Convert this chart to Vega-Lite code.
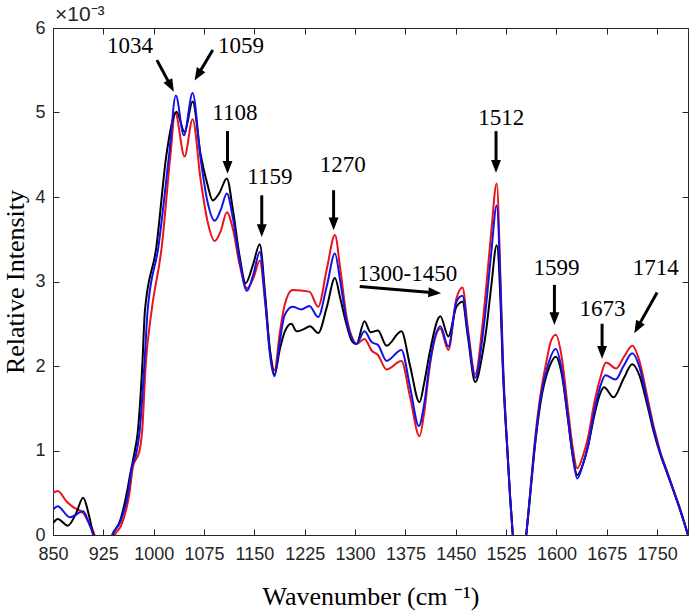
{
  "$schema": "https://vega.github.io/schema/vega-lite/v6.json",
  "width": 635,
  "height": 507,
  "autosize": {"type": "none"},
  "padding": {"left": 53, "top": 28, "right": 4, "bottom": 79},
  "background": "white",
  "datasets": {
    "spectra": [
      {"series": "S1", "wn": 850, "ri": 0.50}, {"series": "S1", "wn": 857, "ri": 0.52}, {"series": "S1", "wn": 870, "ri": 0.40},
      {"series": "S1", "wn": 880, "ri": 0.33}, {"series": "S1", "wn": 895, "ri": 0.26}, {"series": "S1", "wn": 903, "ri": 0.15},
      {"series": "S1", "wn": 912, "ri": 0.0}, {"series": "S1", "wn": 924, "ri": -0.5}, {"series": "S1", "wn": 942, "ri": 0.0},
      {"series": "S1", "wn": 952, "ri": 0.12}, {"series": "S1", "wn": 964, "ri": 0.5}, {"series": "S1", "wn": 969, "ri": 0.8},
      {"series": "S1", "wn": 979, "ri": 1.0}, {"series": "S1", "wn": 983, "ri": 1.25}, {"series": "S1", "wn": 988, "ri": 2.0},
      {"series": "S1", "wn": 997, "ri": 2.66}, {"series": "S1", "wn": 1012, "ri": 3.41}, {"series": "S1", "wn": 1025, "ri": 4.5},
      {"series": "S1", "wn": 1032, "ri": 5.0}, {"series": "S1", "wn": 1046, "ri": 4.48}, {"series": "S1", "wn": 1058, "ri": 4.92},
      {"series": "S1", "wn": 1070, "ri": 4.2}, {"series": "S1", "wn": 1080, "ri": 3.72}, {"series": "S1", "wn": 1091, "ri": 3.48},
      {"series": "S1", "wn": 1100, "ri": 3.6}, {"series": "S1", "wn": 1109, "ri": 3.82}, {"series": "S1", "wn": 1118, "ri": 3.62},
      {"series": "S1", "wn": 1128, "ri": 3.2}, {"series": "S1", "wn": 1139, "ri": 2.92}, {"series": "S1", "wn": 1149, "ri": 3.05},
      {"series": "S1", "wn": 1158, "ri": 3.25}, {"series": "S1", "wn": 1166, "ri": 2.75}, {"series": "S1", "wn": 1173, "ri": 2.2},
      {"series": "S1", "wn": 1180, "ri": 1.95}, {"series": "S1", "wn": 1188, "ri": 2.4}, {"series": "S1", "wn": 1195, "ri": 2.72},
      {"series": "S1", "wn": 1207, "ri": 2.90}, {"series": "S1", "wn": 1232, "ri": 2.88}, {"series": "S1", "wn": 1245, "ri": 2.70},
      {"series": "S1", "wn": 1258, "ri": 3.15}, {"series": "S1", "wn": 1270, "ri": 3.55}, {"series": "S1", "wn": 1278, "ri": 3.15},
      {"series": "S1", "wn": 1287, "ri": 2.6}, {"series": "S1", "wn": 1295, "ri": 2.35}, {"series": "S1", "wn": 1302, "ri": 2.26},
      {"series": "S1", "wn": 1314, "ri": 2.32}, {"series": "S1", "wn": 1325, "ri": 2.18}, {"series": "S1", "wn": 1334, "ri": 2.13},
      {"series": "S1", "wn": 1347, "ri": 1.96}, {"series": "S1", "wn": 1369, "ri": 2.06}, {"series": "S1", "wn": 1382, "ri": 1.63},
      {"series": "S1", "wn": 1396, "ri": 1.17}, {"series": "S1", "wn": 1403, "ri": 1.45}, {"series": "S1", "wn": 1411, "ri": 1.98},
      {"series": "S1", "wn": 1427, "ri": 2.44}, {"series": "S1", "wn": 1439, "ri": 2.19}, {"series": "S1", "wn": 1451, "ri": 2.80},
      {"series": "S1", "wn": 1460, "ri": 2.93}, {"series": "S1", "wn": 1468, "ri": 2.45}, {"series": "S1", "wn": 1479, "ri": 1.90},
      {"series": "S1", "wn": 1490, "ri": 2.5}, {"series": "S1", "wn": 1495, "ri": 2.9}, {"series": "S1", "wn": 1503, "ri": 3.6},
      {"series": "S1", "wn": 1511, "ri": 4.16}, {"series": "S1", "wn": 1517, "ri": 2.94}, {"series": "S1", "wn": 1520, "ri": 2.15},
      {"series": "S1", "wn": 1527, "ri": 1.0}, {"series": "S1", "wn": 1531, "ri": 0.45}, {"series": "S1", "wn": 1535, "ri": 0.0},
      {"series": "S1", "wn": 1545, "ri": -0.6}, {"series": "S1", "wn": 1555, "ri": 0.0}, {"series": "S1", "wn": 1561, "ri": 0.52},
      {"series": "S1", "wn": 1567, "ri": 1.05}, {"series": "S1", "wn": 1576, "ri": 1.65}, {"series": "S1", "wn": 1585, "ri": 2.05},
      {"series": "S1", "wn": 1592, "ri": 2.3}, {"series": "S1", "wn": 1599, "ri": 2.37}, {"series": "S1", "wn": 1608, "ri": 2.1},
      {"series": "S1", "wn": 1617, "ri": 1.5}, {"series": "S1", "wn": 1624, "ri": 1.05}, {"series": "S1", "wn": 1631, "ri": 0.79},
      {"series": "S1", "wn": 1640, "ri": 0.95}, {"series": "S1", "wn": 1647, "ri": 1.15}, {"series": "S1", "wn": 1656, "ri": 1.55},
      {"series": "S1", "wn": 1665, "ri": 1.85}, {"series": "S1", "wn": 1674, "ri": 2.04}, {"series": "S1", "wn": 1689, "ri": 1.97},
      {"series": "S1", "wn": 1700, "ri": 2.1}, {"series": "S1", "wn": 1713, "ri": 2.24}, {"series": "S1", "wn": 1724, "ri": 2.05},
      {"series": "S1", "wn": 1735, "ri": 1.65}, {"series": "S1", "wn": 1745, "ri": 1.28}, {"series": "S1", "wn": 1755, "ri": 0.98},
      {"series": "S1", "wn": 1765, "ri": 0.75}, {"series": "S1", "wn": 1775, "ri": 0.52}, {"series": "S1", "wn": 1785, "ri": 0.29},
      {"series": "S1", "wn": 1796, "ri": 0.0},

      {"series": "S2", "wn": 850, "ri": 0.14}, {"series": "S2", "wn": 857, "ri": 0.19}, {"series": "S2", "wn": 872, "ri": 0.11},
      {"series": "S2", "wn": 884, "ri": 0.25}, {"series": "S2", "wn": 895, "ri": 0.44}, {"series": "S2", "wn": 903, "ri": 0.25},
      {"series": "S2", "wn": 910, "ri": 0.0}, {"series": "S2", "wn": 924, "ri": -0.5}, {"series": "S2", "wn": 939, "ri": 0.0},
      {"series": "S2", "wn": 950, "ri": 0.17}, {"series": "S2", "wn": 960, "ri": 0.5}, {"series": "S2", "wn": 965, "ri": 0.72},
      {"series": "S2", "wn": 972, "ri": 1.0}, {"series": "S2", "wn": 976, "ri": 1.2}, {"series": "S2", "wn": 983, "ri": 2.0},
      {"series": "S2", "wn": 987, "ri": 2.66}, {"series": "S2", "wn": 1004, "ri": 3.41}, {"series": "S2", "wn": 1019, "ri": 4.5},
      {"series": "S2", "wn": 1028, "ri": 4.9}, {"series": "S2", "wn": 1034, "ri": 5.01}, {"series": "S2", "wn": 1046, "ri": 4.77},
      {"series": "S2", "wn": 1058, "ri": 5.13}, {"series": "S2", "wn": 1070, "ri": 4.5}, {"series": "S2", "wn": 1080, "ri": 4.15},
      {"series": "S2", "wn": 1088, "ri": 3.96}, {"series": "S2", "wn": 1098, "ri": 4.05}, {"series": "S2", "wn": 1109, "ri": 4.22},
      {"series": "S2", "wn": 1118, "ri": 3.85}, {"series": "S2", "wn": 1128, "ri": 3.3}, {"series": "S2", "wn": 1137, "ri": 2.98},
      {"series": "S2", "wn": 1148, "ri": 3.2}, {"series": "S2", "wn": 1158, "ri": 3.44}, {"series": "S2", "wn": 1166, "ri": 2.85},
      {"series": "S2", "wn": 1173, "ri": 2.2}, {"series": "S2", "wn": 1180, "ri": 1.9}, {"series": "S2", "wn": 1188, "ri": 2.2},
      {"series": "S2", "wn": 1195, "ri": 2.4}, {"series": "S2", "wn": 1205, "ri": 2.50}, {"series": "S2", "wn": 1213, "ri": 2.41},
      {"series": "S2", "wn": 1222, "ri": 2.43}, {"series": "S2", "wn": 1233, "ri": 2.47}, {"series": "S2", "wn": 1245, "ri": 2.39},
      {"series": "S2", "wn": 1258, "ri": 2.7}, {"series": "S2", "wn": 1270, "ri": 3.04}, {"series": "S2", "wn": 1278, "ri": 2.8},
      {"series": "S2", "wn": 1287, "ri": 2.5}, {"series": "S2", "wn": 1295, "ri": 2.3}, {"series": "S2", "wn": 1302, "ri": 2.26},
      {"series": "S2", "wn": 1314, "ri": 2.53}, {"series": "S2", "wn": 1323, "ri": 2.40}, {"series": "S2", "wn": 1334, "ri": 2.42},
      {"series": "S2", "wn": 1347, "ri": 2.24}, {"series": "S2", "wn": 1369, "ri": 2.41}, {"series": "S2", "wn": 1382, "ri": 2.0},
      {"series": "S2", "wn": 1396, "ri": 1.57}, {"series": "S2", "wn": 1403, "ri": 1.8}, {"series": "S2", "wn": 1411, "ri": 2.15},
      {"series": "S2", "wn": 1427, "ri": 2.59}, {"series": "S2", "wn": 1439, "ri": 2.35}, {"series": "S2", "wn": 1451, "ri": 2.70},
      {"series": "S2", "wn": 1460, "ri": 2.76}, {"series": "S2", "wn": 1468, "ri": 2.35}, {"series": "S2", "wn": 1479, "ri": 1.81},
      {"series": "S2", "wn": 1490, "ri": 2.15}, {"series": "S2", "wn": 1495, "ri": 2.4}, {"series": "S2", "wn": 1503, "ri": 2.95},
      {"series": "S2", "wn": 1511, "ri": 3.43}, {"series": "S2", "wn": 1517, "ri": 2.7}, {"series": "S2", "wn": 1520, "ri": 2.0},
      {"series": "S2", "wn": 1527, "ri": 0.98}, {"series": "S2", "wn": 1531, "ri": 0.45}, {"series": "S2", "wn": 1535, "ri": 0.0},
      {"series": "S2", "wn": 1545, "ri": -0.6}, {"series": "S2", "wn": 1555, "ri": 0.0}, {"series": "S2", "wn": 1561, "ri": 0.48},
      {"series": "S2", "wn": 1567, "ri": 0.98}, {"series": "S2", "wn": 1576, "ri": 1.55}, {"series": "S2", "wn": 1590, "ri": 2.0},
      {"series": "S2", "wn": 1599, "ri": 2.11}, {"series": "S2", "wn": 1608, "ri": 1.9}, {"series": "S2", "wn": 1617, "ri": 1.38},
      {"series": "S2", "wn": 1624, "ri": 0.95}, {"series": "S2", "wn": 1631, "ri": 0.71}, {"series": "S2", "wn": 1640, "ri": 0.85},
      {"series": "S2", "wn": 1647, "ri": 1.05}, {"series": "S2", "wn": 1656, "ri": 1.4}, {"series": "S2", "wn": 1664, "ri": 1.65},
      {"series": "S2", "wn": 1671, "ri": 1.75}, {"series": "S2", "wn": 1685, "ri": 1.63}, {"series": "S2", "wn": 1700, "ri": 1.85},
      {"series": "S2", "wn": 1713, "ri": 2.02}, {"series": "S2", "wn": 1724, "ri": 1.88}, {"series": "S2", "wn": 1735, "ri": 1.55},
      {"series": "S2", "wn": 1745, "ri": 1.22}, {"series": "S2", "wn": 1755, "ri": 0.95}, {"series": "S2", "wn": 1765, "ri": 0.73},
      {"series": "S2", "wn": 1775, "ri": 0.51}, {"series": "S2", "wn": 1785, "ri": 0.28}, {"series": "S2", "wn": 1796, "ri": 0.0},

      {"series": "S3", "wn": 850, "ri": 0.30}, {"series": "S3", "wn": 857, "ri": 0.34}, {"series": "S3", "wn": 875, "ri": 0.21},
      {"series": "S3", "wn": 895, "ri": 0.28}, {"series": "S3", "wn": 903, "ri": 0.15}, {"series": "S3", "wn": 910, "ri": 0.0},
      {"series": "S3", "wn": 924, "ri": -0.5}, {"series": "S3", "wn": 938, "ri": 0.0}, {"series": "S3", "wn": 950, "ri": 0.15},
      {"series": "S3", "wn": 962, "ri": 0.5}, {"series": "S3", "wn": 967, "ri": 0.78}, {"series": "S3", "wn": 975, "ri": 1.0},
      {"series": "S3", "wn": 979, "ri": 1.22}, {"series": "S3", "wn": 986, "ri": 2.0}, {"series": "S3", "wn": 991, "ri": 2.66},
      {"series": "S3", "wn": 1007, "ri": 3.41}, {"series": "S3", "wn": 1023, "ri": 4.5}, {"series": "S3", "wn": 1033, "ri": 5.20},
      {"series": "S3", "wn": 1045, "ri": 4.73}, {"series": "S3", "wn": 1058, "ri": 5.23}, {"series": "S3", "wn": 1070, "ri": 4.45},
      {"series": "S3", "wn": 1080, "ri": 3.95}, {"series": "S3", "wn": 1091, "ri": 3.72}, {"series": "S3", "wn": 1100, "ri": 3.85},
      {"series": "S3", "wn": 1109, "ri": 4.04}, {"series": "S3", "wn": 1118, "ri": 3.75}, {"series": "S3", "wn": 1128, "ri": 3.25},
      {"series": "S3", "wn": 1139, "ri": 2.89}, {"series": "S3", "wn": 1149, "ri": 3.1}, {"series": "S3", "wn": 1158, "ri": 3.35},
      {"series": "S3", "wn": 1166, "ri": 2.8}, {"series": "S3", "wn": 1173, "ri": 2.15}, {"series": "S3", "wn": 1180, "ri": 1.88},
      {"series": "S3", "wn": 1188, "ri": 2.3}, {"series": "S3", "wn": 1195, "ri": 2.6}, {"series": "S3", "wn": 1207, "ri": 2.70},
      {"series": "S3", "wn": 1220, "ri": 2.67}, {"series": "S3", "wn": 1232, "ri": 2.71}, {"series": "S3", "wn": 1245, "ri": 2.58},
      {"series": "S3", "wn": 1258, "ri": 2.95}, {"series": "S3", "wn": 1270, "ri": 3.33}, {"series": "S3", "wn": 1278, "ri": 3.0},
      {"series": "S3", "wn": 1287, "ri": 2.55}, {"series": "S3", "wn": 1295, "ri": 2.33}, {"series": "S3", "wn": 1302, "ri": 2.26},
      {"series": "S3", "wn": 1314, "ri": 2.41}, {"series": "S3", "wn": 1325, "ri": 2.28}, {"series": "S3", "wn": 1334, "ri": 2.25},
      {"series": "S3", "wn": 1347, "ri": 2.06}, {"series": "S3", "wn": 1369, "ri": 2.19}, {"series": "S3", "wn": 1382, "ri": 1.75},
      {"series": "S3", "wn": 1395, "ri": 1.29}, {"series": "S3", "wn": 1403, "ri": 1.55}, {"series": "S3", "wn": 1411, "ri": 2.02},
      {"series": "S3", "wn": 1427, "ri": 2.47}, {"series": "S3", "wn": 1439, "ri": 2.23}, {"series": "S3", "wn": 1451, "ri": 2.76},
      {"series": "S3", "wn": 1460, "ri": 2.83}, {"series": "S3", "wn": 1468, "ri": 2.4}, {"series": "S3", "wn": 1479, "ri": 1.86},
      {"series": "S3", "wn": 1490, "ri": 2.35}, {"series": "S3", "wn": 1495, "ri": 2.7}, {"series": "S3", "wn": 1503, "ri": 3.35},
      {"series": "S3", "wn": 1511, "ri": 3.90}, {"series": "S3", "wn": 1517, "ri": 2.85}, {"series": "S3", "wn": 1520, "ri": 2.05},
      {"series": "S3", "wn": 1527, "ri": 1.0}, {"series": "S3", "wn": 1531, "ri": 0.45}, {"series": "S3", "wn": 1535, "ri": 0.0},
      {"series": "S3", "wn": 1545, "ri": -0.6}, {"series": "S3", "wn": 1555, "ri": 0.0}, {"series": "S3", "wn": 1561, "ri": 0.5},
      {"series": "S3", "wn": 1567, "ri": 1.0}, {"series": "S3", "wn": 1576, "ri": 1.6}, {"series": "S3", "wn": 1587, "ri": 2.0},
      {"series": "S3", "wn": 1599, "ri": 2.20}, {"series": "S3", "wn": 1608, "ri": 1.95}, {"series": "S3", "wn": 1617, "ri": 1.4},
      {"series": "S3", "wn": 1624, "ri": 0.95}, {"series": "S3", "wn": 1631, "ri": 0.67}, {"series": "S3", "wn": 1640, "ri": 0.85},
      {"series": "S3", "wn": 1647, "ri": 1.05}, {"series": "S3", "wn": 1656, "ri": 1.45}, {"series": "S3", "wn": 1665, "ri": 1.75},
      {"series": "S3", "wn": 1673, "ri": 1.89}, {"series": "S3", "wn": 1688, "ri": 1.84}, {"series": "S3", "wn": 1700, "ri": 2.0},
      {"series": "S3", "wn": 1713, "ri": 2.15}, {"series": "S3", "wn": 1724, "ri": 1.98}, {"series": "S3", "wn": 1735, "ri": 1.6},
      {"series": "S3", "wn": 1745, "ri": 1.25}, {"series": "S3", "wn": 1755, "ri": 0.96}, {"series": "S3", "wn": 1765, "ri": 0.74},
      {"series": "S3", "wn": 1775, "ri": 0.51}, {"series": "S3", "wn": 1785, "ri": 0.28}, {"series": "S3", "wn": 1796, "ri": 0.0}
    ],
    "notes": [
      {"label": "1034", "lx": 964.6, "ly": 5.79, "ax": 1004.8, "ay": 5.62, "hx": 1025.1, "hy": 5.32},
      {"label": "1059", "lx": 1130, "ly": 5.79, "ax": 1088, "ay": 5.74, "hx": 1066.3, "hy": 5.45},
      {"label": "1108", "lx": 1121, "ly": 5.0, "ax": 1110, "ay": 4.78, "hx": 1110, "hy": 4.36},
      {"label": "1159", "lx": 1173, "ly": 4.24, "ax": 1161, "ay": 4.02, "hx": 1161, "hy": 3.61},
      {"label": "1270", "lx": 1281.5, "ly": 4.38, "ax": 1268, "ay": 4.08, "hx": 1268, "hy": 3.69},
      {"label": "1300-1450", "lx": 1378, "ly": 3.09, "ax": 1307, "ay": 2.94, "hx": 1417.6, "hy": 2.867},
      {"label": "1512", "lx": 1517.7, "ly": 4.94, "ax": 1510, "ay": 4.78, "hx": 1510, "hy": 4.37},
      {"label": "1599", "lx": 1600, "ly": 3.16, "ax": 1597, "ay": 2.96, "hx": 1597, "hy": 2.57},
      {"label": "1673", "lx": 1668.5, "ly": 2.68, "ax": 1668, "ay": 2.50, "hx": 1668, "hy": 2.17},
      {"label": "1714", "lx": 1748, "ly": 3.16, "ax": 1750, "ay": 2.87, "hx": 1721.1, "hy": 2.46}
    ],
    "exponent": [
      {"text": "×10⁻³", "wn": 850, "ri": 6}
    ]
  },
  "layer": [
    {
      "data": {"name": "spectra"},
      "mark": {"type": "line", "interpolate": "monotone", "strokeWidth": 2, "clip": true},
      "encoding": {
        "x": {
          "field": "wn",
          "type": "quantitative",
          "scale": {"domain": [850, 1796], "nice": false, "zero": false},
          "axis": {
            "orient": "bottom",
            "values": [850, 925, 1000, 1075, 1150, 1225, 1300, 1375, 1450, 1525, 1600, 1675, 1750],
            "format": "d",
            "title": "Wavenumber (cm ⁻¹)",
            "labelPadding": 16,
            "titlePadding": 20
          }
        },
        "y": {
          "field": "ri",
          "type": "quantitative",
          "scale": {"domain": [0, 6], "nice": false},
          "axis": {
            "orient": "left",
            "values": [0, 1, 2, 3, 4, 5, 6],
            "format": "d",
            "title": "Relative Intensity",
            "labelPadding": 14,
            "titlePadding": 6
          }
        },
        "color": {
          "field": "series",
          "type": "nominal",
          "scale": {"domain": ["S1", "S2", "S3"], "range": ["#e8141b", "#000000", "#1212e6"]},
          "legend": null
        }
      }
    },
    {
      "data": {"name": "notes"},
      "mark": {"type": "rule", "strokeWidth": 3, "color": "black"},
      "encoding": {
        "x": {
          "field": "ax",
          "type": "quantitative",
          "axis": {
            "orient": "top",
            "values": [850, 925, 1000, 1075, 1150, 1225, 1300, 1375, 1450, 1525, 1600, 1675, 1750],
            "labels": false,
            "title": null
          }
        },
        "y": {
          "field": "ay",
          "type": "quantitative",
          "axis": {"orient": "right", "values": [0, 1, 2, 3, 4, 5, 6], "labels": false, "title": null}
        },
        "x2": {"field": "hx"},
        "y2": {"field": "hy"}
      }
    },
    {
      "data": {"name": "notes"},
      "transform": [
        {"calculate": "atan2((datum.hx - datum.ax) * 0.672, (datum.hy - datum.ay) * 84.5) * 180 / PI", "as": "heading"}
      ],
      "mark": {"type": "point", "shape": "M0,-1L0.7,0.8L-0.7,0.8Z", "filled": true, "color": "black", "size": 200, "opacity": 1},
      "encoding": {
        "x": {"field": "hx", "type": "quantitative", "axis": null},
        "y": {"field": "hy", "type": "quantitative", "axis": null},
        "angle": {"field": "heading", "type": "quantitative", "scale": null}
      }
    },
    {
      "data": {"name": "notes"},
      "mark": {"type": "text", "font": "Liberation Serif", "fontSize": 23, "color": "black", "align": "center", "baseline": "middle"},
      "encoding": {
        "x": {"field": "lx", "type": "quantitative", "axis": null},
        "y": {"field": "ly", "type": "quantitative", "axis": null},
        "text": {"field": "label", "type": "nominal"}
      }
    },
    {
      "data": {"name": "exponent"},
      "mark": {"type": "text", "font": "Liberation Sans", "fontSize": 21, "color": "#262626", "align": "left", "baseline": "bottom", "dx": 2, "dy": -3},
      "encoding": {
        "x": {"field": "wn", "type": "quantitative", "axis": null},
        "y": {"field": "ri", "type": "quantitative", "axis": null},
        "text": {"field": "text", "type": "nominal"}
      }
    }
  ],
  "resolve": {"axis": {"x": "independent", "y": "independent"}},
  "config": {
    "view": {"stroke": null},
    "axis": {
      "grid": false,
      "labelFlush": false,
      "domainColor": "#262626",
      "domainWidth": 1,
      "tickColor": "#262626",
      "tickWidth": 1,
      "tickSize": -6,
      "labelColor": "#262626",
      "labelFont": "Liberation Sans",
      "labelFontSize": 18,
      "titleFont": "Liberation Serif",
      "titleFontSize": 26,
      "titleFontWeight": "normal",
      "titleColor": "black"
    }
  }
}
